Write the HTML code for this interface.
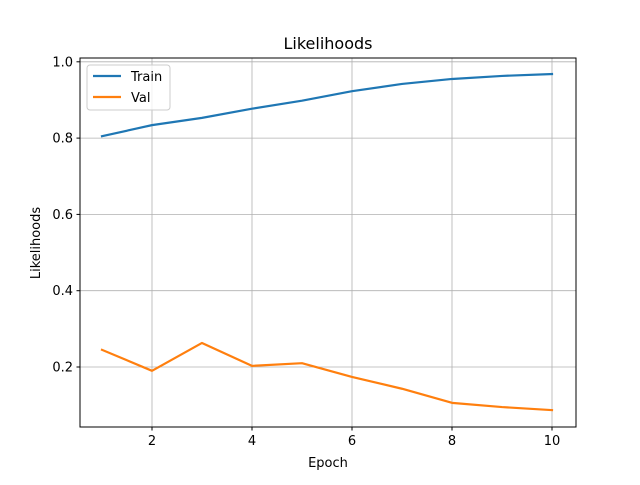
<!DOCTYPE html>
<html><head><meta charset="utf-8"><style>
body{margin:0;background:#fff;}
svg text{font-family:"DejaVu Sans","Liberation Sans",sans-serif;}
</style></head><body>
<svg id="chart" width="640" height="480" xmlns="http://www.w3.org/2000/svg">
<rect width="640" height="480" fill="#fff"/>
<g id="grid"></g>
<g id="lines"></g>
<rect x="80" y="58" width="496" height="369" fill="none" stroke="#000" stroke-width="1"/>
<g id="ticks"></g>
<text x="328" y="49" font-size="16" text-anchor="middle">Likelihoods</text>
<text x="328" y="467" font-size="13" text-anchor="middle">Epoch</text>
<text transform="translate(40,243) rotate(-90)" font-size="13" text-anchor="middle">Likelihoods</text>
<g>
<rect x="87" y="65" width="83" height="45" rx="3" fill="#fff" fill-opacity="0.8" stroke="#ccc"/>
<line x1="93" y1="76" x2="121" y2="76" stroke="#1f77b4" stroke-width="2.2"/>
<text x="131" y="81" font-size="13">Train</text>
<line x1="93" y1="97" x2="121" y2="97" stroke="#ff7f0e" stroke-width="2.2"/>
<text x="131" y="102" font-size="13">Val</text>
</g>
</svg>
<script>
const epochs=[1,2,3,4,5,6,7,8,9,10];
const trainVals=[0.805,0.834,0.853,0.877,0.898,0.923,0.942,0.955,0.963,0.968];
const valVals=[0.245,0.19,0.263,0.203,0.21,0.174,0.143,0.106,0.095,0.087];
const xTicks=[2,4,6,8,10];
const yTicks=[0.2,0.4,0.6,0.8,1.0];
const NS="http://www.w3.org/2000/svg";
function xs(v){return 102+(v-1)*50;}
function ys(v){return 443.3-v*381.5;}
const grid=document.getElementById('grid'),ticks=document.getElementById('ticks'),lines=document.getElementById('lines');
function mk(tag,attrs,parent){const e=document.createElementNS(NS,tag);for(const k in attrs)e.setAttribute(k,attrs[k]);parent.appendChild(e);return e;}
xTicks.forEach(t=>{const x=xs(t);
const g=mk('line',{x1:x,x2:x,y1:58,y2:427,stroke:'#b0b0b0','stroke-width':0.8},grid);


mk('line',{x1:x,x2:x,y1:427,y2:430.5,stroke:'#000'},ticks);
const tx=mk('text',{x:x,y:445,'font-size':13,'text-anchor':'middle'},ticks);tx.textContent=t;

});
yTicks.forEach(t=>{const y=ys(t);
const g=mk('line',{x1:80,x2:576,y1:y,y2:y,stroke:'#b0b0b0','stroke-width':0.8},grid);


mk('line',{x1:76.5,x2:80,y1:y,y2:y,stroke:'#000'},ticks);
const tx=mk('text',{x:73,y:y+4.5,'font-size':13,'text-anchor':'end'},ticks);tx.textContent=t.toFixed(1);

});
function series(vals,color,name){
const p=mk('polyline',{points:vals.map((v,i)=>xs(epochs[i])+','+ys(v)).join(' '),fill:'none',stroke:color,'stroke-width':2.2,'stroke-linejoin':'round','stroke-linecap':'square'},lines);

}
series(trainVals,'#1f77b4','train-line');
series(valVals,'#ff7f0e','val-line');
</script>
</body></html>
